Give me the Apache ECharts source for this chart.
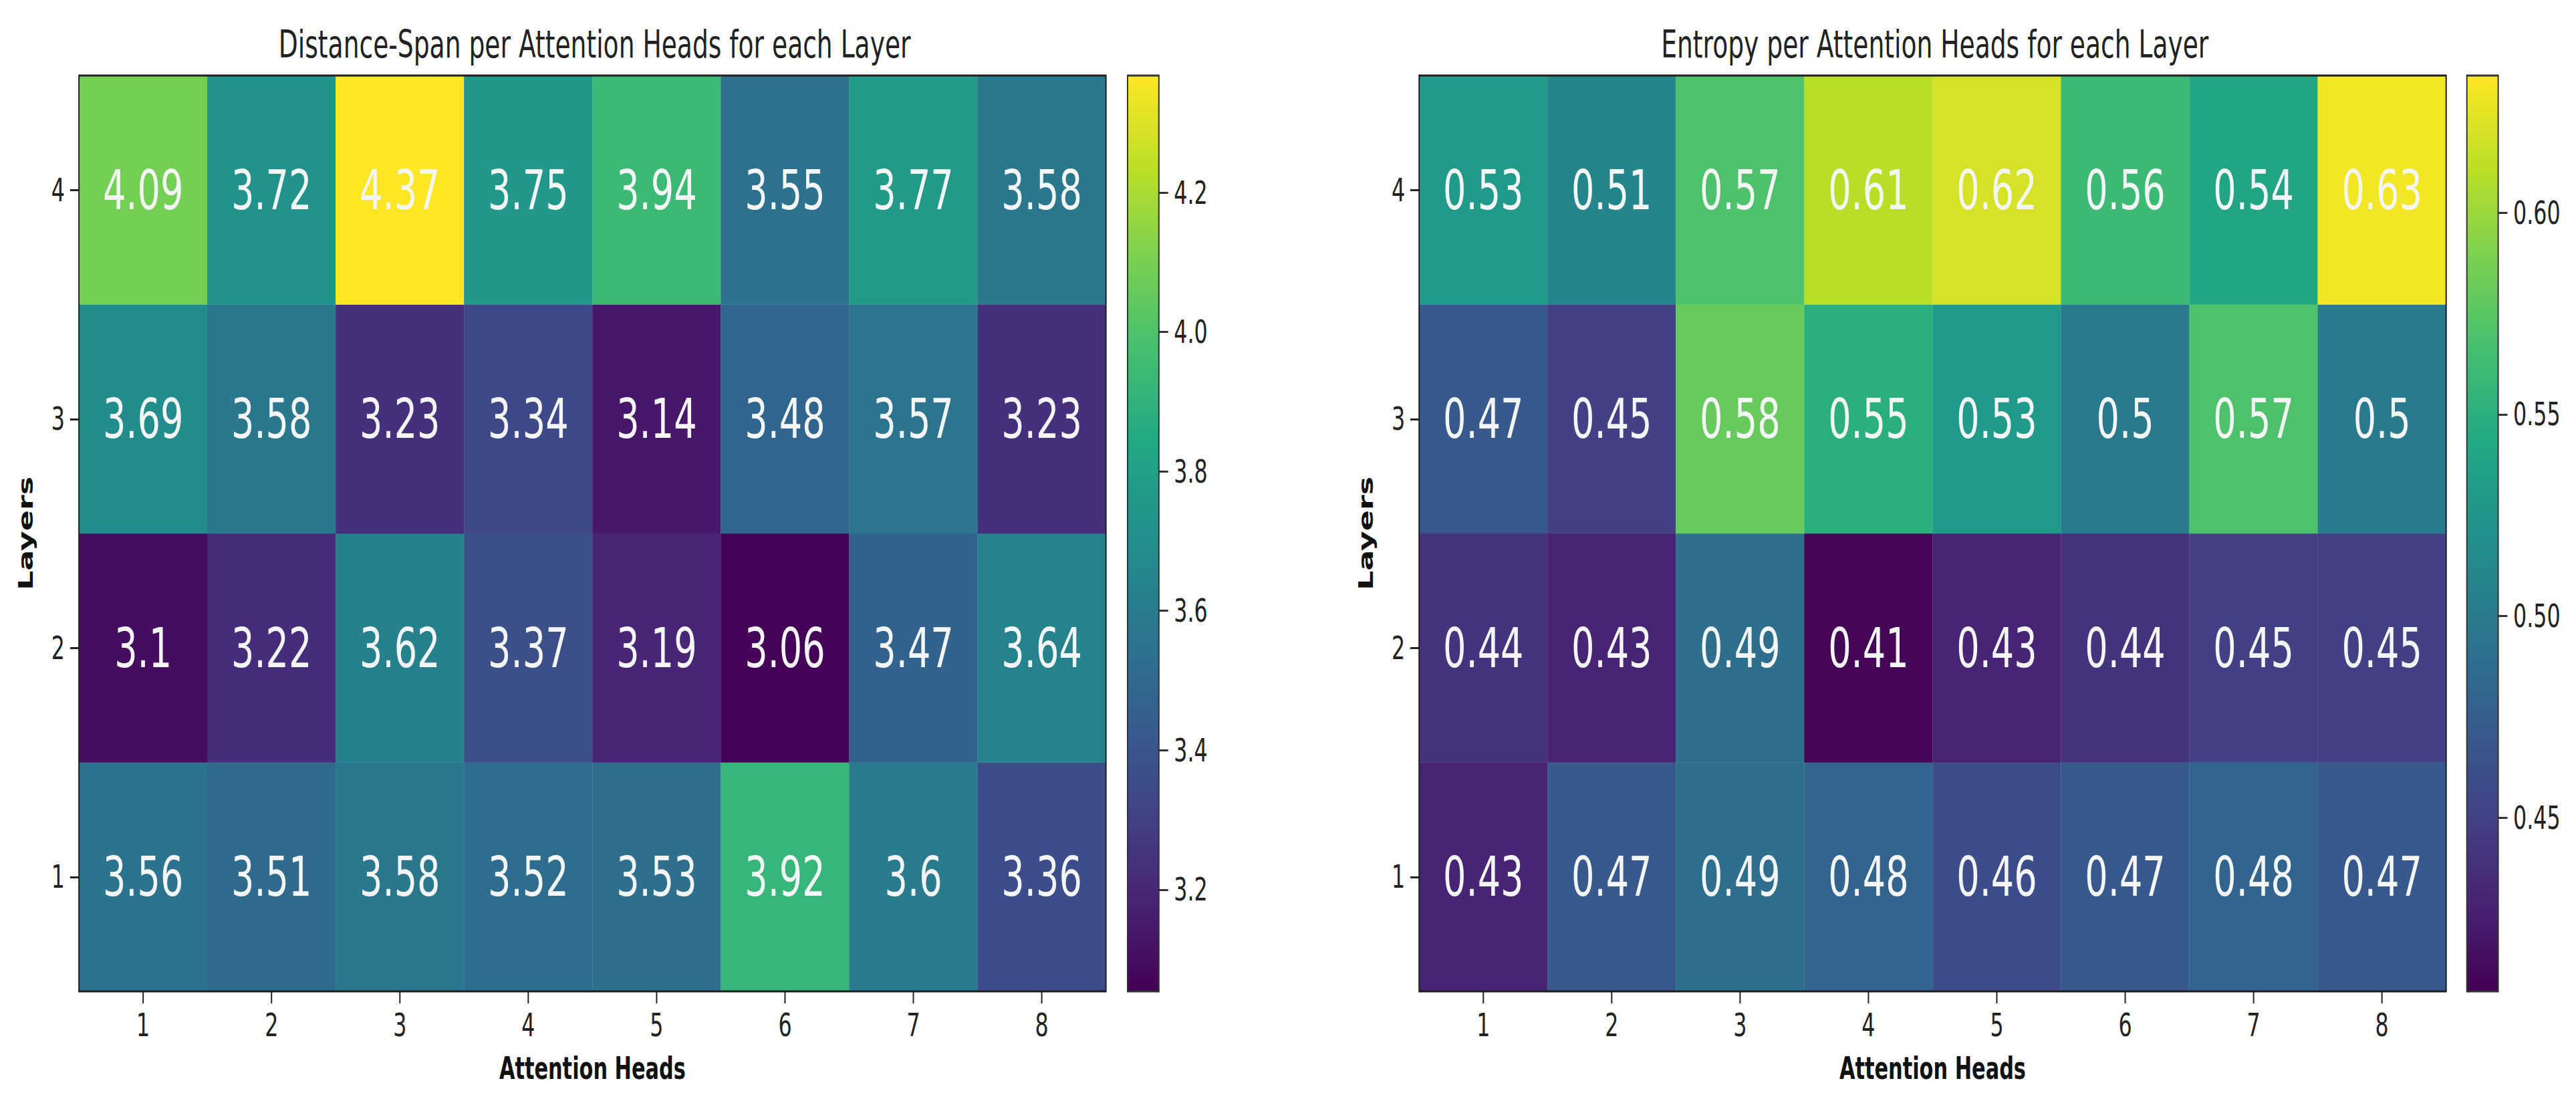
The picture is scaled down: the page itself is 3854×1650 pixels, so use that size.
<!DOCTYPE html>
<html>
<head>
<meta charset="utf-8">
<script src="https://cdn.jsdelivr.net/npm/echarts@6/dist/echarts.min.js"></script>
<style>
html, body { margin: 0; padding: 0; background: #ffffff; overflow: hidden; width: 3854px; height: 1650px; }
#chart { width: 5840px; height: 1650px; transform: scaleX(0.66); transform-origin: 0 0; }
</style>
</head>
<body>
<div id="chart"></div>
<script>
// ---- data (rows = layers 1..4, columns = heads 1..8) ----
const heads = ['1', '2', '3', '4', '5', '6', '7', '8'];
const layers = ['1', '2', '3', '4'];

const distanceLayer1 = [3.56, 3.51, 3.58, 3.52, 3.53, 3.92, 3.6, 3.36];
const distanceLayer2 = [3.1, 3.22, 3.62, 3.37, 3.19, 3.06, 3.47, 3.64];
const distanceLayer3 = [3.69, 3.58, 3.23, 3.34, 3.14, 3.48, 3.57, 3.23];
const distanceLayer4 = [4.09, 3.72, 4.37, 3.75, 3.94, 3.55, 3.77, 3.58];

const entropyLayer1 = [0.43, 0.47, 0.49, 0.48, 0.46, 0.47, 0.48, 0.47];
const entropyLayer2 = [0.44, 0.43, 0.49, 0.41, 0.43, 0.44, 0.45, 0.45];
const entropyLayer3 = [0.47, 0.45, 0.58, 0.55, 0.53, 0.5, 0.57, 0.5];
const entropyLayer4 = [0.53, 0.51, 0.57, 0.61, 0.62, 0.56, 0.54, 0.63];

const distanceRange = [3.054, 4.368];
const entropyRange = [0.407, 0.634];
const distanceTicks = [3.2, 3.4, 3.6, 3.8, 4.0, 4.2];
const entropyTicks = [0.45, 0.50, 0.55, 0.60];

const titles = ['Distance-Span per Attention Heads for each Layer', 'Entropy per Attention Heads for each Layer'];

const viridis = ['#440154', '#482475', '#414487', '#355f8d', '#2a788e', '#21918c',
                 '#22a884', '#44bf70', '#7ad151', '#bddf26', '#fde725'];

function toCells(rows) {
  const out = [];
  rows.forEach((row, y) => row.forEach((v, x) => out.push([x, y, v])));
  return out;
}
const distanceCells = toCells([distanceLayer1, distanceLayer2, distanceLayer3, distanceLayer4]);
const entropyCells = toCells([entropyLayer1, entropyLayer2, entropyLayer3, entropyLayer4]);

// ---- layout (pre-transform coordinates; the container is squeezed horizontally) ----
const FONT = 'DejaVu Sans';
const TXT = '#222222';
const plotTop = 113, plotH = 1370, plotW = 2328;
const plotLefts = [179, 3217];
const barLefts = [2556, 5592];
const barW = 71;

const chart = echarts.init(document.getElementById('chart'), null, { renderer: 'svg' });

const grids = [], xAxes = [], yAxes = [], series = [], visualMaps = [], titleList = [];
const sets = [
  { cells: distanceCells, range: distanceRange, ticks: distanceTicks, dec: 1 },
  { cells: entropyCells, range: entropyRange, ticks: entropyTicks, dec: 2 }
];

sets.forEach((s, i) => {
  // heatmap grid
  grids.push({ left: plotLefts[i], top: plotTop, width: plotW, height: plotH,
    show: true, borderColor: '#1e1e1e', borderWidth: 3, backgroundColor: 'transparent', z: 10 });
  // colorbar grid
  grids.push({ left: barLefts[i], top: plotTop, width: barW, height: plotH,
    show: true, borderColor: '#333333', borderWidth: 3, backgroundColor: 'transparent', z: 10 });

  const gHeat = grids.length - 2, gBar = grids.length - 1;

  xAxes.push({
    type: 'category', data: heads, gridIndex: gHeat, position: 'bottom',
    axisLine: { show: false },
    axisTick: { show: true, alignWithLabel: true, length: 18, lineStyle: { color: '#222', width: 3 } },
    axisLabel: { fontFamily: FONT, fontSize: 48, color: TXT, margin: 26 },
    splitLine: { show: false },
    name: 'Attention Heads', nameLocation: 'middle', nameGap: 92,
    nameTextStyle: { fontFamily: FONT, fontSize: 46, fontWeight: 'bold', color: '#111' }
  });
  yAxes.push({
    type: 'category', data: layers, gridIndex: gHeat, position: 'left',
    axisLine: { show: false },
    axisTick: { show: true, alignWithLabel: true, length: 20, lineStyle: { color: '#222', width: 3 } },
    axisLabel: { fontFamily: FONT, fontSize: 48, color: TXT, margin: 32 },
    splitLine: { show: false },
    name: 'Layers', nameLocation: 'middle', nameGap: 98,
    nameTextStyle: { fontFamily: FONT, fontSize: 46, fontWeight: 'bold', color: '#111' }
  });

  xAxes.push({ type: 'category', data: ['c'], gridIndex: gBar, show: false });
  yAxes.push({
    type: 'value', gridIndex: gBar, position: 'right',
    min: s.range[0], max: s.range[1],
    axisLine: { show: false },
    splitLine: { show: false },
    axisTick: { show: true, customValues: s.ticks, length: 21, lineStyle: { color: '#333', width: 3 } },
    axisLabel: { show: true, customValues: s.ticks, fontFamily: FONT, fontSize: 48, color: TXT, margin: 34,
      formatter: v => Number(v).toFixed(s.dec) }
  });

  series.push({
    type: 'heatmap', xAxisIndex: xAxes.length - 2, yAxisIndex: yAxes.length - 2,
    data: s.cells,
    label: { show: true, formatter: p => String(p.value[2]), fontFamily: FONT, fontSize: 82, color: '#f4f6f6' },
    itemStyle: { borderWidth: 0 },
    emphasis: { disabled: true }
  });

  visualMaps.push({
    type: 'continuous', seriesIndex: i, dimension: 2,
    min: s.range[0], max: s.range[1],
    calculable: false, realtime: false, hoverLink: false,
    left: barLefts[i], top: plotTop, itemWidth: barW, itemHeight: plotH,
    padding: 0, text: null, showLabel: false,
    inRange: { color: viridis }, orient: 'vertical'
  });

  titleList.push({
    text: titles[i], left: plotLefts[i] + plotW / 2, top: 32, textAlign: 'center',
    textStyle: { fontFamily: FONT, fontSize: 57, fontWeight: 'normal', color: TXT }
  });
});

chart.setOption({
  backgroundColor: '#ffffff',
  animation: false,
  title: titleList,
  grid: grids,
  xAxis: xAxes,
  yAxis: yAxes,
  visualMap: visualMaps,
  series: series
});
</script>
</body>
</html>
